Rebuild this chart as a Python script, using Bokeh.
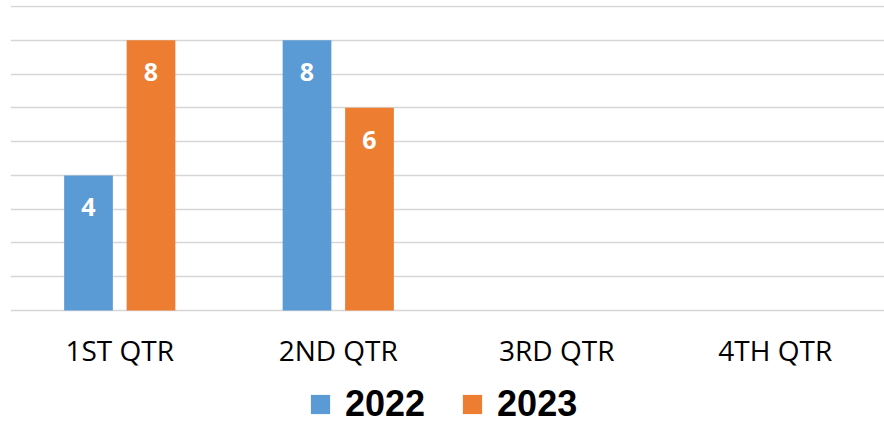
import math
from bokeh.plotting import figure
from bokeh.layouts import column
from bokeh.models import (FactorRange, Range1d, Legend, LegendItem,
                          ColumnDataSource, FixedTicker)
from bokeh.transform import dodge
from bokeh.core.properties import value
from bokeh.embed import file_html
from bokeh.resources import INLINE

# ---- data ----
quarters = ["1ST QTR", "2ND QTR", "3RD QTR", "4TH QTR"]
series_names = ["2022", "2023"]
values_2022 = [4, 8, None, None]
values_2023 = [8, 6, None, None]
y_ticks = [0, 1, 2, 3, 4, 5, 6, 7, 8, 9]

colors = {"2022": "#5B9BD5", "2023": "#ED7D31"}
offsets = {"2022": -0.143, "2023": 0.143}
NAN = float("nan")


def clean(vals):
    return [NAN if v is None else v for v in vals]


src = ColumnDataSource(dict(q=quarters, v2022=clean(values_2022), v2023=clean(values_2023)))

p = figure(x_range=FactorRange(*quarters, range_padding=0),
           y_range=Range1d(-0.06, 9.03),
           frame_width=874, frame_height=307,
           output_backend="svg", toolbar_location=None,
           min_border_left=10, min_border_right=0,
           min_border_top=5, min_border_bottom=0)
p.outline_line_color = None
p.background_fill_color = "white"
p.border_fill_color = "white"

p.yaxis.visible = False
p.xgrid.visible = False
p.ygrid.ticker = FixedTicker(ticks=y_ticks)
p.ygrid.grid_line_color = "#d6d6d6"
p.ygrid.grid_line_width = 1.6

xa = p.xaxis[0]
xa.axis_line_color = None
xa.major_tick_line_color = None
xa.minor_tick_line_color = None
xa.major_tick_out = 0
xa.major_tick_in = 0
xa.major_label_text_font = "Open Sans"
xa.major_label_text_font_size = "28px"
xa.major_label_text_color = "#000000"
xa.major_label_standoff = 18

for name, col in (("2022", "v2022"), ("2023", "v2023")):
    p.vbar(x=dodge("q", offsets[name], range=p.x_range), top=col, width=0.223,
           source=src, fill_color=colors[name], line_color=None)

    vals = values_2022 if name == "2022" else values_2023
    lq = [q for q, v in zip(quarters, vals) if v is not None]
    lv = [v for v in vals if v is not None]
    lsrc = ColumnDataSource(dict(q=lq, v=lv, t=[str(v) for v in lv]))
    p.text(x=dodge("q", offsets[name], range=p.x_range), y="v", text="t", source=lsrc,
           text_color="white", text_font=value("Open Sans"), text_font_style="bold",
           text_font_size="25px", text_align="center", text_baseline="middle",
           y_offset=32)

# ---- legend strip below the chart ----
lg = figure(width=884, height=58, x_range=Range1d(0, 1), y_range=Range1d(0, 1),
            output_backend="svg", toolbar_location=None,
            x_axis_location=None, y_axis_location=None,
            min_border_left=0, min_border_right=0, min_border_top=0, min_border_bottom=0)
lg.outline_line_color = None
lg.xgrid.visible = False
lg.ygrid.visible = False
lg.border_fill_color = "white"
lg.background_fill_color = "white"

items = []
for name in series_names:
    r = lg.vbar(x=[NAN], top=[NAN], width=0.1, fill_color=colors[name], line_color=None)
    items.append(LegendItem(label=name, renderers=[r]))

legend = Legend(items=items, orientation="horizontal", location=(298, 4),
                label_text_font="Liberation Sans", label_text_font_size="36px",
                label_text_font_style="bold", label_text_color="#000000",
                glyph_width=24, glyph_height=24, label_standoff=13, spacing=35,
                padding=0, margin=0, border_line_color=None,
                background_fill_alpha=0)
lg.add_layout(legend)

layout = column(p, lg, spacing=0)
open("out.html", "w").write(file_html(layout, INLINE))
